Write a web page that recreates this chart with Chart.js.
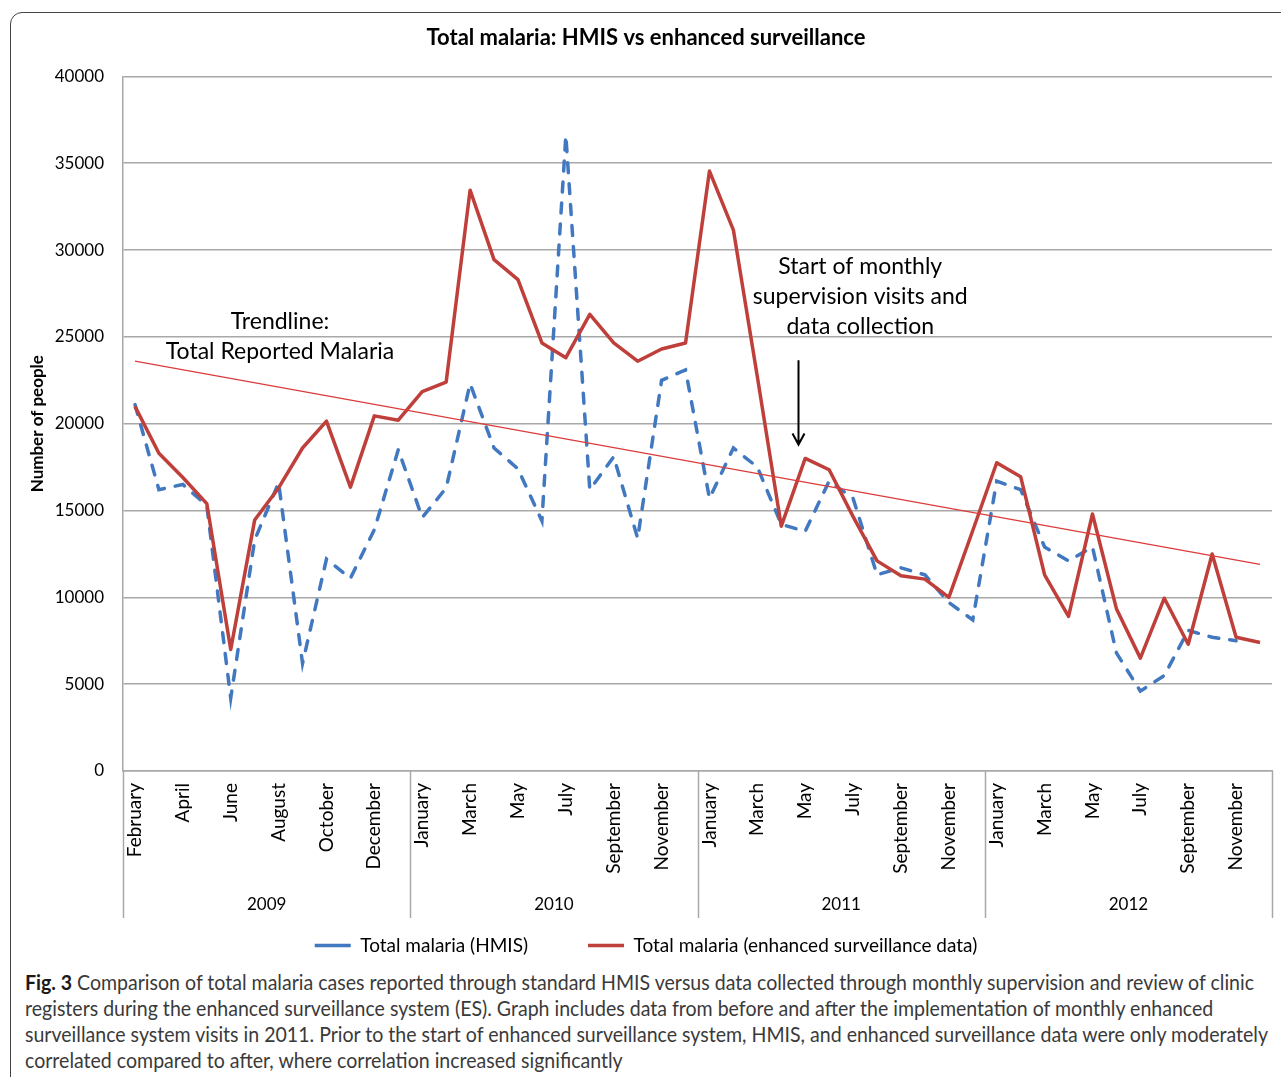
<!DOCTYPE html>
<html>
<head>
<meta charset="utf-8">
<script src="https://cdn.jsdelivr.net/npm/chart.js@4.4.1/dist/chart.umd.min.js"></script>
<style>
html,body{margin:0;padding:0;background:#fff;width:1281px;height:1077px;overflow:hidden;}
#frame{position:absolute;left:10px;top:12px;width:1400px;height:1200px;border:1.5px solid #444;border-top-left-radius:12px;box-sizing:border-box;}
#wrap{position:absolute;left:0;top:0;width:1281px;height:965px;}
#caption{position:absolute;left:25px;top:969px;font-family:Lato,"Open Sans",sans-serif;font-size:21px;line-height:26px;color:#3a3a3a;white-space:nowrap;transform-origin:0 0;}
#caption b{color:#1a1a1a;}
#caption div{white-space:nowrap;}
#caption span{display:inline-block;}
</style>
</head>
<body>
<div id="frame"></div>
<div id="wrap"><canvas id="c" width="1281" height="965"></canvas></div>
<div id="caption">
<div><span id="cl1"><b>Fig. 3</b> Comparison of total malaria cases reported through standard HMIS versus data collected through monthly supervision and review of clinic</span></div>
<div><span>registers during the enhanced surveillance system (ES). Graph includes data from before and after the implementation of monthly enhanced</span></div>
<div><span id="cl3">surveillance system visits in 2011. Prior to the start of enhanced surveillance system, HMIS, and enhanced surveillance data were only moderately</span></div>
<div><span>correlated compared to after, where correlation increased significantly</span></div>
</div>
<script>
// ---- data ----
const monthLabels = [
  'February','March','April','May','June','July','August','September','October','November','December','',
  'January','February','March','April','May','June','July','August','September','October','November','December',
  'January','February','March','April','May','June','July','August','September','October','November','December',
  'January','February','March','April','May','June','July','August','September','October','November','December'
];
const yearLabels = ['2009','2010','2011','2012'];
const hmisCases = [
  21100,16200,16500,15300,4200,13300,16600,6200,12200,11100,13900,18500,
  14600,16300,22300,18600,17400,14400,36600,16200,18100,13400,22500,23100,
  15700,18600,17500,14200,13800,16700,15700,11300,11700,11300,9700,8700,
  16700,16200,12900,12100,12900,6800,4600,5500,8100,7700,7500,null
];
const enhancedCases = [
  21000,18300,16900,15400,7000,14450,16300,18600,20150,16350,20450,20200,
  21850,22400,33450,29450,28300,24650,23800,26300,24650,23600,24300,24650,
  34550,31150,22700,14100,18000,17350,14650,12100,11250,11050,10000,13850,
  17750,16950,11300,8900,14800,9350,6500,9950,7300,12500,7700,7400
];
const trendEnds = [23600, 11900];
const yTickValues = [0,5000,10000,15000,20000,25000,30000,35000,40000];
const seriesNames = ['Total malaria (HMIS)','Total malaria (enhanced surveillance data)','Trendline'];

// ---- fit caption to the figure width ----
(function(){
  const cap = document.getElementById('caption');
  const w1 = document.getElementById('cl1').getBoundingClientRect().width;
  const w3 = document.getElementById('cl3').getBoundingClientRect().width;
  const k = Math.min(1248 / w1, 1243 / w3);
  cap.style.transform = 'scaleX(' + k + ')';
})();

const trendData = monthLabels.map((_, i) => i === 0 ? trendEnds[0] : (i === monthLabels.length - 1 ? trendEnds[1] : null));

const FONT = 'Lato';
const gridColor = '#a8a8a8';
const perYear = 12;

const annotationPlugin = {
  id: 'annot',
  afterDraw(chart) {
    const {ctx, scales} = chart;
    const x = scales.x, y = scales.y;
    const area = chart.chartArea;
    ctx.save();
    // year separators and year labels under the month labels
    ctx.strokeStyle = gridColor;
    ctx.lineWidth = 1.5;
    for (let k = 0; k <= yearLabels.length; k++) {
      const px = Math.round(x.getPixelForValue(k * perYear - 0.5)) + 0.5;
      ctx.beginPath();
      ctx.moveTo(px, area.bottom);
      ctx.lineTo(px, area.bottom + 147);
      ctx.stroke();
    }
    ctx.fillStyle = '#000';
    ctx.font = '17px ' + FONT;
    ctx.textAlign = 'center';
    ctx.textBaseline = 'middle';
    yearLabels.forEach((yl, k) => {
      const px = x.getPixelForValue(k * perYear + (perYear - 1) / 2);
      ctx.fillText(yl, px, area.bottom + 134);
    });
    // text annotations
    ctx.font = '23px ' + FONT;
    ctx.fillText('Trendline:', x.getPixelForValue(6.06), y.getPixelForValue(25900));
    ctx.fillText('Total Reported Malaria', x.getPixelForValue(6.06), y.getPixelForValue(24170));
    const tx = x.getPixelForValue(30.3);
    ctx.fillText('Start of monthly', tx, y.getPixelForValue(29060));
    ctx.fillText('supervision visits and', tx, y.getPixelForValue(27330));
    ctx.fillText('data collection', tx, y.getPixelForValue(25600));
    // arrow
    const ax = Math.round(x.getPixelForValue(27.7)) + 0.5;
    const ay1 = y.getPixelForValue(23650), ay2 = y.getPixelForValue(18800);
    ctx.strokeStyle = '#000';
    ctx.lineWidth = 2;
    ctx.beginPath();
    ctx.moveTo(ax, ay1); ctx.lineTo(ax, ay2);
    ctx.moveTo(ax - 6, ay2 - 11); ctx.lineTo(ax, ay2); ctx.lineTo(ax + 6, ay2 - 11);
    ctx.stroke();
    ctx.restore();
  }
};

new Chart(document.getElementById('c'), {
  type: 'line',
  data: {
    labels: monthLabels,
    datasets: [
      {
        label: seriesNames[0],
        data: hmisCases,
        borderColor: '#4178c0',
        backgroundColor: '#4178c0',
        borderWidth: 3.5,
        borderDash: [10, 11],
        borderCapStyle: 'round',
        pointRadius: 0,
        tension: 0,
        order: 2
      },
      {
        label: seriesNames[1],
        data: enhancedCases,
        borderColor: '#bf3f3b',
        backgroundColor: '#bf3f3b',
        borderWidth: 3.5,
        borderJoinStyle: 'round',
        pointRadius: 0,
        tension: 0,
        order: 1
      },
      {
        label: seriesNames[2],
        data: trendData,
        borderColor: '#dd3b3b',
        borderWidth: 1.2,
        pointRadius: 0,
        spanGaps: true,
        tension: 0,
        order: 0
      }
    ]
  },
  options: {
    responsive: false,
    devicePixelRatio: 1,
    animation: false,
    layout: { padding: { left: 20, right: 9, top: 0, bottom: 0 } },
    plugins: {
      tooltip: { enabled: false },
      title: {
        display: true,
        text: 'Total malaria: HMIS vs enhanced surveillance',
        color: '#000',
        font: { family: FONT, size: 22, weight: 'bold' },
        padding: { top: 25, bottom: 25 }
      },
      legend: {
        position: 'bottom',
        labels: {
          color: '#000',
          font: { family: FONT, size: 19 },
          usePointStyle: true,
          pointStyle: 'line',
          pointStyleWidth: 36,
          padding: 60,
          filter: (item) => item.datasetIndex !== 2,
          sort: (a, b) => a.datasetIndex - b.datasetIndex
        }
      }
    },
    scales: {
      y: {
        min: 0, max: 40000,
        afterBuildTicks: (s) => { s.ticks = yTickValues.map(v => ({value: v})); },
        afterFit: (s) => { s.width = 103; },
        ticks: {
          color: '#000',
          font: { family: FONT, size: 17 },
          padding: 19,
          callback: (v) => String(v)
        },
        grid: { color: gridColor, lineWidth: 1.5, drawTicks: false },
        border: { display: true, color: gridColor, width: 1.5 },
        title: {
          display: true,
          text: 'Number of people',
          color: '#000',
          font: { family: FONT, size: 17, weight: 'bold' },
          padding: { top: 7, bottom: 0 }
        }
      },
      x: {
        offset: true,
        afterFit: (s) => { s.height = 105; s.paddingLeft = 0; s.paddingRight = 0; },
        ticks: {
          color: '#000',
          font: { family: FONT, size: 19 },
          autoSkip: false,
          maxRotation: 90,
          minRotation: 90,
          padding: 12,
          callback: function(v, i) { return i % 2 === 0 ? this.getLabelForValue(v) : ''; }
        },
        grid: { display: false, drawTicks: false },
        border: { display: true, color: gridColor, width: 1.5 }
      }
    }
  },
  plugins: [annotationPlugin]
});
</script>
</body>
</html>
